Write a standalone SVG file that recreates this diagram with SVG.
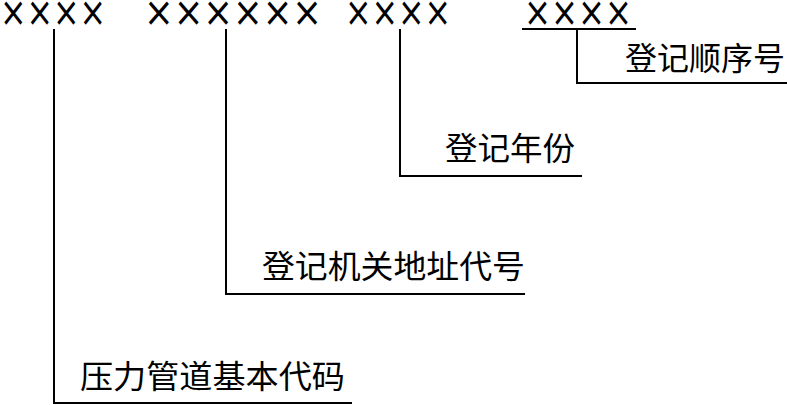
<svg xmlns="http://www.w3.org/2000/svg" width="787" height="405" viewBox="0 0 787 405">
<style>
.x{font-family:"DejaVu Sans","Liberation Sans",sans-serif;font-size:40px;fill:#000}
.t{font-family:"Liberation Sans","Noto Sans CJK SC",sans-serif;font-size:32px;fill:#000}
.l{stroke:#000;stroke-width:2;fill:none}
</style>
<rect width="787" height="405" fill="#fff"/>
<g id="codes">
<text class="x" x="0" y="26" textLength="106" lengthAdjust="spacingAndGlyphs">××××</text>
<text class="x" x="144" y="26" textLength="178" lengthAdjust="spacingAndGlyphs">××××××</text>
<text class="x" x="345" y="26" textLength="106" lengthAdjust="spacingAndGlyphs">××××</text>
<text class="x" x="524" y="26" textLength="108" lengthAdjust="spacingAndGlyphs">××××</text>
</g>
<g id="connectors">
<polyline class="l" points="522,29 636,29"/>
<polyline class="l" points="54,29 54,403 352,403"/>
<polyline class="l" points="226,29 226,294 525,294"/>
<polyline class="l" points="400,29 400,176 582,176"/>
<polyline class="l" points="577,29 577,83 787,83"/>
</g>
<g id="n1"><text class="t" x="80" y="388" textLength="265" lengthAdjust="spacingAndGlyphs">压力管道基本代码</text></g>
<g id="n2"><text class="t" x="262" y="278" textLength="263" lengthAdjust="spacingAndGlyphs">登记机关地址代号</text></g>
<g id="n3"><text class="t" x="445" y="160" textLength="130" lengthAdjust="spacingAndGlyphs">登记年份</text></g>
<g id="n4"><text class="t" x="625" y="70" textLength="160" lengthAdjust="spacingAndGlyphs">登记顺序号</text></g>
</svg>
